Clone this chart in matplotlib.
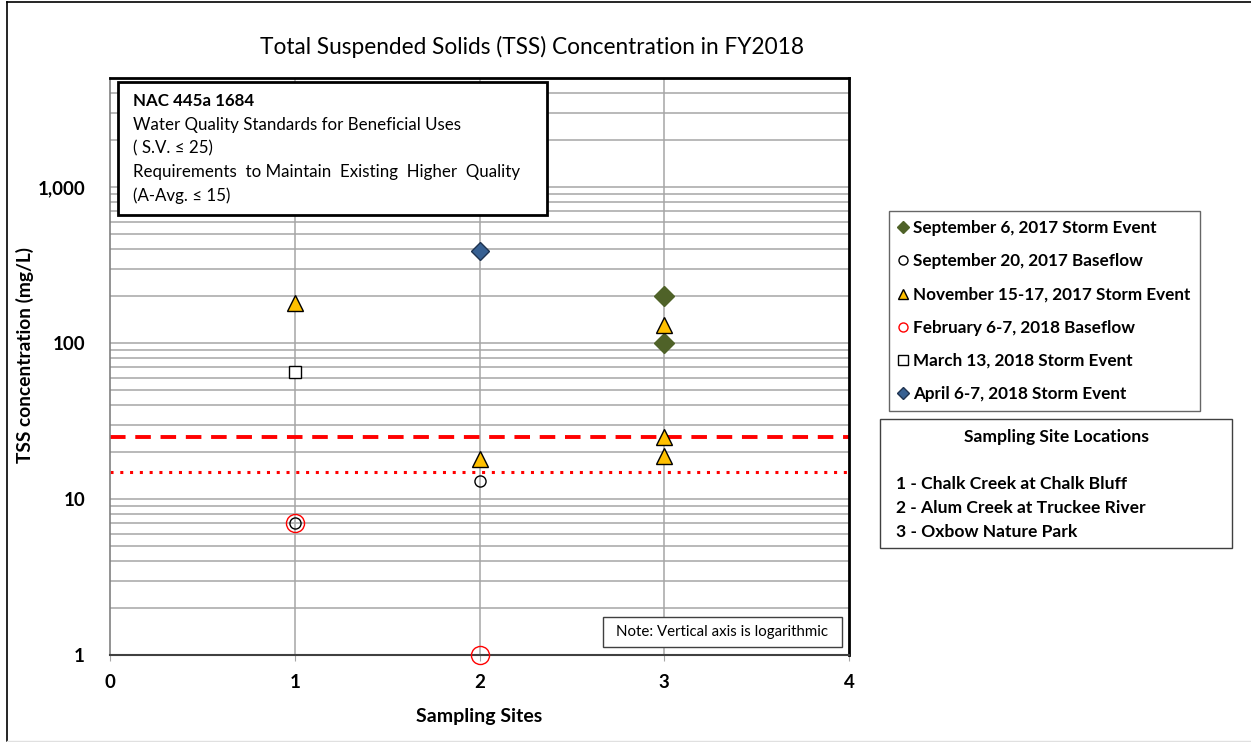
import matplotlib
matplotlib.use("Agg")
import matplotlib.pyplot as plt
from matplotlib.patches import Rectangle
from matplotlib.lines import Line2D
from matplotlib.ticker import FixedLocator, NullFormatter

plt.rcParams['font.family'] = ['Lato', 'DejaVu Sans']

# Sampling events: site number and TSS concentration (mg/L)
sites_sep6 = [3, 3]
tss_sep6 = [200, 100]
sites_sep20 = [1, 2]
tss_sep20 = [7, 13]
sites_nov = [1, 2, 3, 3, 3]
tss_nov = [180, 18, 130, 25, 19]
sites_feb = [1, 2]
tss_feb = [7, 1]
sites_mar = [1]
tss_mar = [65]
sites_apr = [2]
tss_apr = [390]

standard_sv = 25      # single value standard
standard_avg = 15     # annual average requirement

x_ticks = [0, 1, 2, 3, 4]
y_ticks = [1, 10, 100, 1000]
y_tick_labels = ["1", "10", "100", "1,000"]

W, H = 1251, 742
fig = plt.figure(figsize=(W / 100, H / 100), dpi=100)


def fx(px):
    return px / W


def fy(py):
    return 1 - py / H


ax = fig.add_axes([fx(110), fy(655), fx(849) - fx(110), fy(78) - fy(655)])
ax.set_yscale('log')
ax.set_xlim(0, 4)
ax.set_ylim(1, 5000)

# grid
minor = [m * 10 ** e for e in range(0, 4) for m in range(2, 10) if m * 10 ** e < 5000]
ax.yaxis.set_minor_locator(FixedLocator(minor))
ax.yaxis.set_minor_formatter(NullFormatter())
ax.set_yticks(y_ticks)
ax.set_yticklabels(y_tick_labels)
ax.set_xticks(x_ticks)
ax.grid(True, which='both', axis='y', color='#a6a6a6', linewidth=1.1, zorder=0)
ax.set_axisbelow(True)
for xv in [1, 2, 3]:
    ax.axvline(xv, color='#a6a6a6', linewidth=1.1, zorder=0)

ax.tick_params(axis='y', which='both', length=0, pad=18, labelsize=13.5)
ax.tick_params(axis='x', length=4, color='#a6a6a6', pad=10, labelsize=13.5)
for lbl in ax.get_xticklabels() + ax.get_yticklabels():
    lbl.set_fontweight('bold')

for side in ['top', 'right']:
    ax.spines[side].set_linewidth(2)
    ax.spines[side].set_color('black')
ax.spines['bottom'].set_linewidth(1.5)
ax.spines['bottom'].set_color('#404040')
ax.spines['left'].set_linewidth(1.2)
ax.spines['left'].set_color('#808080')

# standards
ax.axhline(standard_sv, color='#ff0000', linestyle=(0, (4, 2.5)), linewidth=2.8, zorder=2)
ax.axhline(standard_avg, color='#ff0000', linestyle=(0, (1, 2.2)), linewidth=2.2, zorder=2)

# data
h_sep6, = ax.plot(sites_sep6, tss_sep6, linestyle='none', marker='D', markersize=10,
                  markerfacecolor='#4f6228', markeredgecolor='#4f6228', zorder=4,
                  label='September 6, 2017 Storm Event')
h_sep20, = ax.plot(sites_sep20, tss_sep20, linestyle='none', marker='o', markersize=8,
                   markerfacecolor='none', markeredgecolor='black', markeredgewidth=1.0, zorder=5,
                   label='September 20, 2017 Baseflow')
h_nov, = ax.plot(sites_nov, tss_nov, linestyle='none', marker='^', markersize=12,
                 markerfacecolor='#ffc000', markeredgecolor='black', markeredgewidth=1.0, zorder=5,
                 label='November 15-17, 2017 Storm Event')
h_feb, = ax.plot(sites_feb, tss_feb, linestyle='none', marker='o', markersize=13,
                 markerfacecolor='none', markeredgecolor='#ff0000', markeredgewidth=1.0, zorder=5,
                 label='February 6-7, 2018 Baseflow', clip_on=False)
h_mar, = ax.plot(sites_mar, tss_mar, linestyle='none', marker='s', markersize=9,
                 markerfacecolor='white', markeredgecolor='black', markeredgewidth=1.0, zorder=5,
                 label='March 13, 2018 Storm Event')
h_apr, = ax.plot(sites_apr, tss_apr, linestyle='none', marker='D', markersize=9.5,
                 markerfacecolor='#376092', markeredgecolor='#1f3350', markeredgewidth=1.0, zorder=5,
                 label='April 6-7, 2018 Storm Event')

ax.set_xlabel('Sampling Sites', fontsize=14, fontweight='bold', labelpad=12)
fig.text(fx(25), fy(355), 'TSS concentration (mg/L)', rotation=90, fontsize=13.8,
         fontweight='bold', ha='center', va='center')

fig.text(fx(532), fy(47), 'Total Suspended Solids (TSS) Concentration in FY2018',
         fontsize=16.3, ha='center', va='center')

# standards annotation box
ax_box = Rectangle((fx(118), fy(215)), fx(547) - fx(118), fy(82) - fy(215),
                   transform=fig.transFigure, facecolor='white', edgecolor='black',
                   linewidth=2, zorder=10)
fig.patches.append(ax_box)
box_lines = [("NAC 445a 1684", 'bold'),
             ("Water Quality Standards for Beneficial Uses", 'normal'),
             ("( S.V. \u2264 25)", 'normal'),
             ("Requirements  to Maintain  Existing  Higher  Quality", 'normal'),
             ("(A-Avg. \u2264 15)", 'normal')]
for i, (txt, wt) in enumerate(box_lines):
    fig.text(fx(133), fy(101 + i * 23.8), txt, fontsize=12.2, fontweight=wt,
             ha='left', va='center', zorder=11)

# legend
leg = fig.legend(handles=[h_sep6, h_sep20, h_nov, h_feb, h_mar, h_apr],
                 loc='upper left', bbox_to_anchor=(fx(889), fy(211)),
                 frameon=True, fancybox=False, edgecolor='#404040',
                 prop={'weight': 'bold', 'size': 12.3},
                 handlelength=0.55, handletextpad=0.3, labelspacing=1.0,
                 borderpad=0.55, borderaxespad=0)
leg.get_frame().set_linewidth(1.0)
for h in leg.legend_handles:
    h.set_markersize(6.5)

# site locations box
site_box = Rectangle((fx(880), fy(548)), fx(1232) - fx(880), fy(419) - fy(548),
                     transform=fig.transFigure, facecolor='white', edgecolor='#404040',
                     linewidth=1.0)
fig.patches.append(site_box)
fig.text(fx(1056), fy(437), 'Sampling Site Locations', fontsize=12.6, fontweight='bold',
         ha='center', va='center')
site_lines = ["1 - Chalk Creek at Chalk Bluff",
              "2 - Alum Creek at Truckee River",
              "3 - Oxbow Nature Park"]
for i, txt in enumerate(site_lines):
    fig.text(fx(896), fy(484 + i * 24), txt, fontsize=12.6, fontweight='bold',
             ha='left', va='center')

# note box
note_box = Rectangle((fx(603), fy(647)), fx(842) - fx(603), fy(617) - fy(647),
                     transform=fig.transFigure, facecolor='white', edgecolor='#404040',
                     linewidth=1.0, zorder=10)
fig.patches.append(note_box)
fig.text(fx(722), fy(632), 'Note: Vertical axis is logarithmic', fontsize=10.8,
         ha='center', va='center', zorder=11)

# outer frame
fig.lines.append(Line2D([fx(7), fx(7)], [fy(741), fy(2)], transform=fig.transFigure,
                        color='black', linewidth=1.2))
fig.lines.append(Line2D([fx(7), 1], [fy(2), fy(2)], transform=fig.transFigure,
                        color='black', linewidth=1.2))
fig.lines.append(Line2D([fx(7), 1], [fy(741), fy(741)], transform=fig.transFigure,
                        color='#e0e0e0', linewidth=1.0))

fig.savefig('out.png', dpi=100, facecolor='white')
